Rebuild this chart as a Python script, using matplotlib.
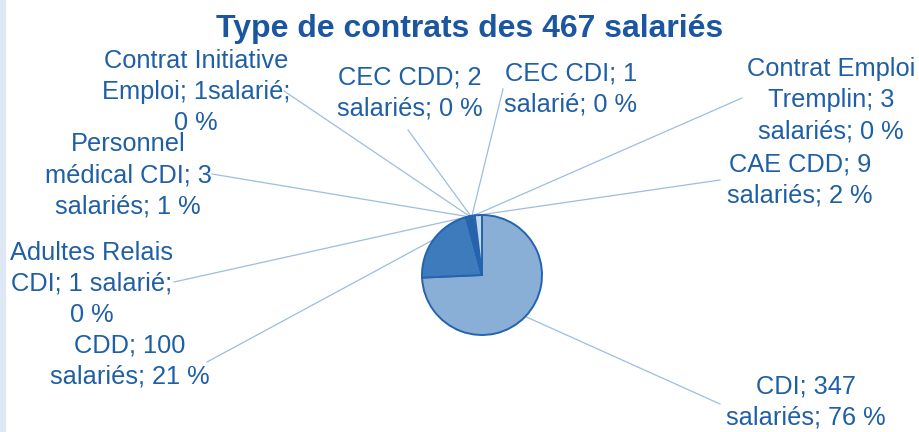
import matplotlib.pyplot as plt
import numpy as np
from matplotlib.patches import Rectangle

# data - contract types, clockwise from 12 o'clock
labels = ['CDI', 'CDD', 'Adultes Relais CDI', 'Personnel médical CDI',
          'Contrat Initiative Emploi', 'CEC CDD', 'CEC CDI',
          'Contrat Emploi Tremplin', 'CAE CDD']
counts = [347, 100, 1, 3, 1, 2, 1, 3, 9]
label_texts = ['CDI; 347\nsalariés; 76 %',
               'CDD; 100\nsalariés; 21 %',
               'Adultes Relais\nCDI; 1 salarié;\n0 %',
               'Personnel\nmédical CDI; 3\nsalariés; 1 %',
               'Contrat Initiative\nEmploi; 1salarié;\n0 %',
               'CEC CDD; 2\nsalariés; 0 %',
               'CEC CDI; 1\nsalarié; 0 %',
               'Contrat Emploi\nTremplin; 3\nsalariés; 0 %',
               'CAE CDD; 9\nsalariés; 2 %']
colors = ['#8AAFD6', '#3D7BBD', '#2F6DB5', '#5A8FCB', '#2A64AA',
          '#7FA7D6', '#3A74B8', '#5588C6', '#C5D8EE']

# layout (pixel coords, y from the top)
label_pos = [(806, 402), (130, 361), (92, 284), (128, 175), (196, 92),
             (410, 93), (571, 89), (831, 100), (800, 180)]
leader_start = [(720, 404), (207, 362), (174, 282), (212, 174), (284, 91),
                (408, 130), (503, 89), (742, 98), (720, 180)]
center = (482, 275)
radius = 60

text_col = '#1F5FA6'
line_col = '#9DBDE0'

plt.rcParams['font.family'] = ['Liberation Sans', 'DejaVu Sans']

fig = plt.figure(figsize=(9.19, 4.32), dpi=100)
ax = fig.add_axes([0, 0, 1, 1])

wedges, _ = ax.pie(counts, colors=colors, center=center, radius=radius,
                   startangle=-90, counterclock=True, frame=True,
                   wedgeprops=dict(edgecolor='#2563AD', linewidth=1.4))

ax.set_xlim(0, 919)
ax.set_ylim(432, 0)
ax.set_aspect('auto')
ax.axis('off')

# leader lines and labels
for w, txt, (lx, ly), (sx, sy) in zip(wedges, label_texts, label_pos, leader_start):
    th = np.deg2rad((w.theta1 + w.theta2) / 2)
    px = center[0] + radius * np.cos(th)
    py = center[1] + radius * np.sin(th)
    ax.plot([sx, px], [sy, py], color=line_col, lw=0.9, zorder=0)
    ax.text(lx, ly, txt, ha='center', va='center', multialignment='center',
            fontsize=18.3, color=text_col, linespacing=1.38)

ax.text(470, 29, 'Type de contrats des 467 salariés', ha='center', va='center',
        fontsize=23, fontweight='bold', color='#1B56A0')

# light strip on the left edge
fig.patches.append(Rectangle((0, 0), 5 / 919, 1, transform=fig.transFigure,
                             color='#DDE8F4', zorder=-1))

fig.savefig('out.png', dpi=100)
